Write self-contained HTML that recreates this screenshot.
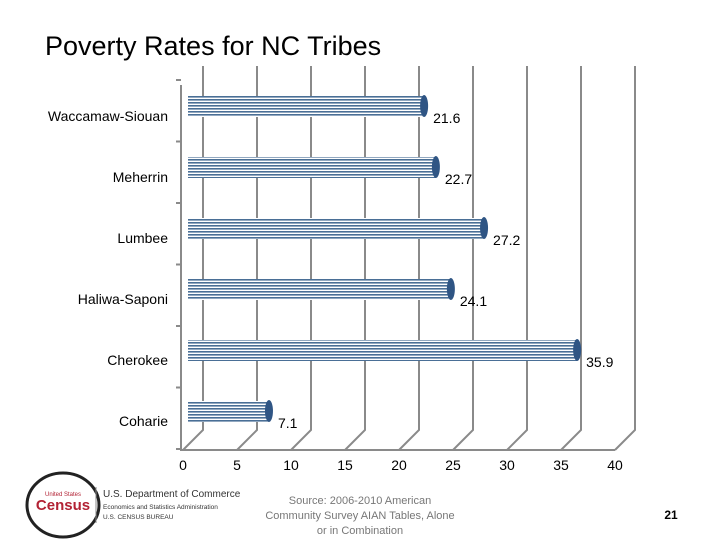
<!DOCTYPE html>
<html><head><meta charset="utf-8"><style>
body{margin:0;background:#fff;width:720px;height:540px;overflow:hidden;font-family:"Liberation Sans",sans-serif}
</style></head><body>
<svg id="c" width="720" height="540" xmlns="http://www.w3.org/2000/svg">
<defs>
<pattern id="stripes" width="4" height="3" patternUnits="userSpaceOnUse">
<rect width="4" height="3" fill="#ffffff"/><rect width="4" height="1.6" fill="#4a6f96"/>
</pattern>
</defs>
<text x="45" y="55" font-size="27" fill="#000">Poverty Rates for NC Tribes</text>
<g id="grid"></g><g id="bars"></g>
<g>
<ellipse cx="63" cy="505" rx="36" ry="32" fill="#fff" stroke="#222" stroke-width="3"/>
<text x="63" y="510" font-size="15" font-weight="bold" fill="#b22234" text-anchor="middle">Census</text>
<text x="63" y="496" font-size="6" fill="#b22234" text-anchor="middle">United States</text>
<line x1="96" y1="487" x2="96" y2="523" stroke="#888"/>
<text x="103" y="497" font-size="10" fill="#333">U.S. Department of Commerce</text>
<text x="103" y="509" font-size="6.5" fill="#333">Economics and Statistics Administration</text>
<text x="103" y="519" font-size="6.5" fill="#333">U.S. CENSUS BUREAU</text>
<g font-size="11" fill="#777" text-anchor="middle">
<text x="360" y="504">Source: 2006-2010 American</text>
<text x="360" y="519">Community Survey AIAN Tables, Alone</text>
<text x="360" y="534">or in Combination</text></g>
<text x="671" y="519" font-size="12" font-weight="bold" text-anchor="middle">21</text>
</g>
</svg>
<script>
const categories=["Waccamaw-Siouan","Meherrin","Lumbee","Haliwa-Saponi","Cherokee","Coharie"];
const values=[21.6,22.7,27.2,24.1,35.9,7.1];
const ticks=[0,5,10,15,20,25,30,35,40];
const NS="http://www.w3.org/2000/svg";
const x0=183,ppu=10.8,base=450,topY=66,dx=20,dy=20;
const xs=v=>x0+v*ppu;
const yc=i=>106+i*61;
function mk(t,a,p){const e=document.createElementNS(NS,t);for(const k in a)e.setAttribute(k,a[k]);p.appendChild(e);return e;}
const g=document.getElementById('grid'),b=document.getElementById('bars');
ticks.forEach(t=>{
 const x=xs(t);
 const l=mk('path',{d:`M${x},${base} L${x+dx},${base-dy} L${x+dx},${topY}`,stroke:'#8a8a8a','stroke-width':2,fill:'none'},g);
 
 
 const tx=mk('text',{x:x,y:base+20,'font-size':14,'text-anchor':'middle',fill:'#000'},g);
 tx.textContent=t;
 
 
});
const ax=mk('path',{d:`M${x0-2},85 L${x0-2},${base} L${xs(40)},${base}`,stroke:'#8a8a8a','stroke-width':2,fill:'none'},g);


for(let i=0;i<=6;i++){const yy=80+i*61.5;mk('line',{x1:x0-7,y1:yy,x2:x0-2,y2:yy,stroke:'#8a8a8a','stroke-width':2},g);}
categories.forEach((c,i)=>{
 const y=yc(i),v=values[i],xe=193+v*10.7;
 const r=mk('rect',{x:188,y:y-10,width:xe-188,height:21,fill:'url(#stripes)'},b);
 
 
 const e=mk('ellipse',{cx:xe,cy:y,rx:4,ry:11,fill:'#2f5584'},b);
 
 
 const lb=mk('text',{x:168,y:y+15,'font-size':14,'text-anchor':'end',fill:'#000'},b);
 lb.textContent=c;
 
 
 const vl=mk('text',{x:xe+9,y:y+17,'font-size':14,fill:'#000'},b);
 vl.textContent=v;
 
 
});
</script>
</body></html>
